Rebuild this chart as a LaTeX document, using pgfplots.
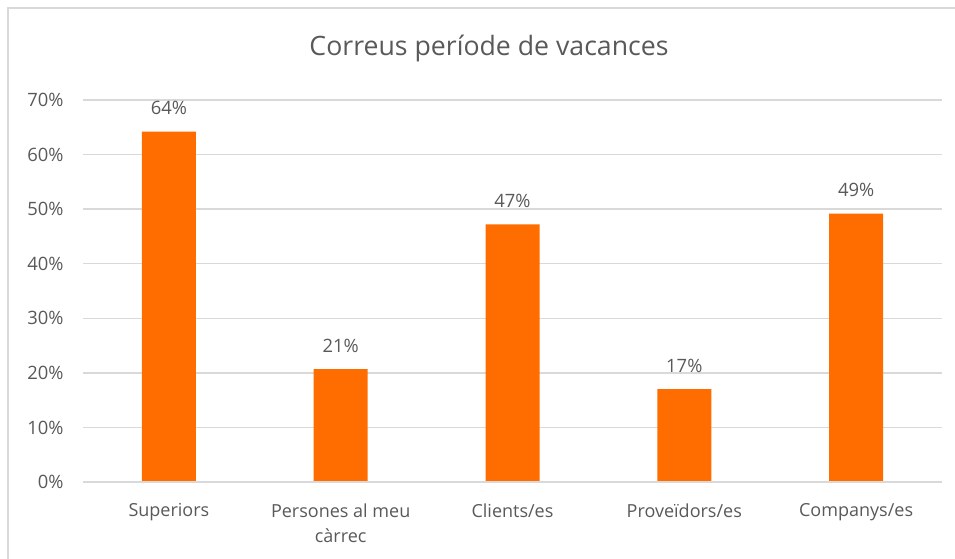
\documentclass[border=0pt]{standalone}
\usepackage{pgfplots}
\pgfplotsset{compat=1.18}
\usepackage{fontspec}
\setmainfont{Open Sans}
\definecolor{txt}{HTML}{595959}
\definecolor{gridc}{HTML}{D9D9D9}
\definecolor{barc}{HTML}{FF6D00}
\begin{document}
\begin{tikzpicture}[x=0.75pt,y=0.75pt]
\path[use as bounding box] (0,0) rectangle (955,559);
\draw[gridc, line width=1.5pt] (8,0) -- (8,551) -- (955,551);
\node[txt, font=\fontsize{20}{24}\selectfont] at (489,511) {Correus període de vacances};
\begin{axis}[
  at={(62.25pt,57.75pt)}, anchor=south west,
  scale only axis, width=644.25pt, height=286.5pt,
  xmin=-0.5, xmax=4.5, ymin=0, ymax=70,
  ytick={0,10,...,70},
  yticklabel={\pgfmathprintnumber{\tick}\%},
  /pgf/number format/assume math mode=true,
  xtick={0,1,2,3,4},
  xticklabels={Superiors, {Persones al meu\\càrrec}, Clients/es, Proveïdors/es, Companys/es},
  xticklabel style={align=center, font=\fontsize{13.5}{19}\selectfont, text=txt, anchor=north, yshift=-12.5pt},
  yticklabel style={font=\fontsize{13.8}{16}\selectfont, text=txt, xshift=-11pt},
  axis line style={draw=none},
  axis x line*=bottom,
  major tick length=0pt,
  ymajorgrids, grid style={gridc, line width=1pt},
  ybar, bar width=40.5pt,
  nodes near coords={\pgfmathprintnumber[fixed,precision=0]{\pgfplotspointmeta}\%},
  nodes near coords style={font=\fontsize{13.8}{16}\selectfont, text=txt, yshift=9pt},
  clip=false,
]
\addplot[fill=barc, draw=none] coordinates {(0,64.2) (1,20.7) (2,47.2) (3,17.0) (4,49.2)};
\draw[gridc, line width=1.5pt] (axis cs:-0.5,0) -- (axis cs:4.5,0);
\end{axis}
\end{tikzpicture}
\end{document}
